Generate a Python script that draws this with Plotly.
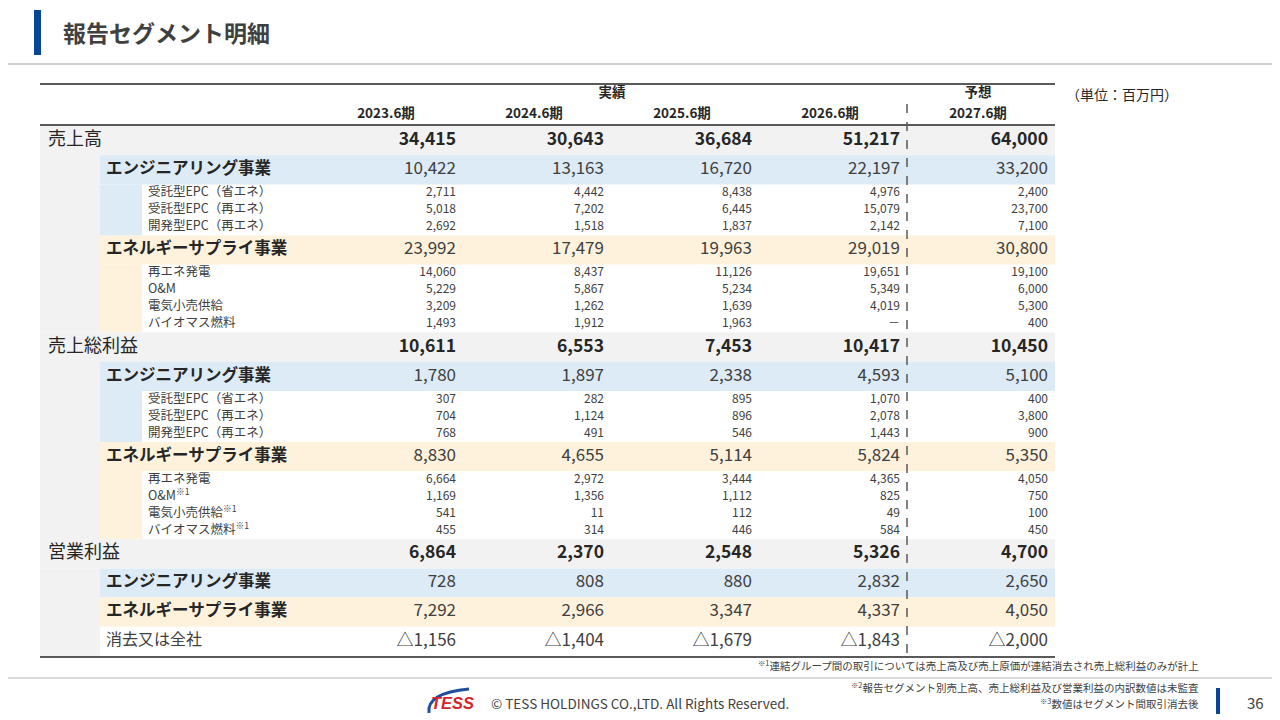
import plotly.graph_objects as go

# ---- data (百万円) ----
years = ["2023.6期", "2024.6期", "2025.6期", "2026.6期", "2027.6期"]

sales_total = [34415, 30643, 36684, 51217, 64000]
sales_eng = [10422, 13163, 16720, 22197, 33200]
eng_items = ["受託型EPC（省エネ）", "受託型EPC（再エネ）", "開発型EPC（再エネ）"]
sales_eng_sub = [
    [2711, 4442, 8438, 4976, 2400],
    [5018, 7202, 6445, 15079, 23700],
    [2692, 1518, 1837, 2142, 7100],
]
sales_energy = [23992, 17479, 19963, 29019, 30800]
sales_energy_items = ["再エネ発電", "O&M", "電気小売供給", "バイオマス燃料"]
sales_energy_sub = [
    [14060, 8437, 11126, 19651, 19100],
    [5229, 5867, 5234, 5349, 6000],
    [3209, 1262, 1639, 4019, 5300],
    [1493, 1912, 1963, None, 400],
]

gross_total = [10611, 6553, 7453, 10417, 10450]
gross_eng = [1780, 1897, 2338, 4593, 5100]
gross_eng_sub = [
    [307, 282, 895, 1070, 400],
    [704, 1124, 896, 2078, 3800],
    [768, 491, 546, 1443, 900],
]
gross_energy = [8830, 4655, 5114, 5824, 5350]
gross_energy_items = ["再エネ発電", "O&M<sup>※1</sup>", "電気小売供給<sup>※1</sup>", "バイオマス燃料<sup>※1</sup>"]
gross_energy_sub = [
    [6664, 2972, 3444, 4365, 4050],
    [1169, 1356, 1112, 825, 750],
    [541, 11, 112, 49, 100],
    [455, 314, 446, 584, 450],
]

op_total = [6864, 2370, 2548, 5326, 4700]
op_eng = [728, 808, 880, 2832, 2650]
op_energy = [7292, 2966, 3347, 4337, 4050]
op_elim = [-1156, -1404, -1679, -1843, -2000]

sections = [
    ("売上高", sales_total, [
        ("eng", "エンジニアリング事業", sales_eng, eng_items, sales_eng_sub),
        ("energy", "エネルギーサプライ事業", sales_energy, sales_energy_items, sales_energy_sub),
    ]),
    ("売上総利益", gross_total, [
        ("eng", "エンジニアリング事業", gross_eng, eng_items, gross_eng_sub),
        ("energy", "エネルギーサプライ事業", gross_energy, gross_energy_items, gross_energy_sub),
    ]),
    ("営業利益", op_total, [
        ("eng", "エンジニアリング事業", op_eng, [], []),
        ("energy", "エネルギーサプライ事業", op_energy, [], []),
        ("elim", "消去又は全社", op_elim, [], []),
    ]),
]

# ---- layout constants ----
JP = "Noto Sans CJK JP"
NUM = "Noto Sans CJK JP"
DARK = "#262626"
MID = "#404040"
col_right = [456, 604, 752, 900, 1048]
TL, TR = 40, 1055
ROW_H = 29.2
SUB_H = 17
bg = {"eng": "#ddebf7", "energy": "#fff2dc", "elim": "white"}
OFF = 8  # page body margin


def fmt(v):
    if v is None:
        return "－"
    if v < 0:
        return "△{:,}".format(-v)
    return "{:,}".format(v)


shapes = []
texts = {}


def add_text(style, x, y, t):
    d = texts.setdefault(style, {"x": [], "y": [], "text": []})
    d["x"].append(x)
    d["y"].append(y)
    d["text"].append(t)


def rect(x0, y0, x1, y1, color):
    shapes.append(dict(type="rect", xref="x", yref="y", x0=x0, x1=x1, y0=y0, y1=y1,
                       fillcolor=color, line=dict(width=0), layer="below"))


y = 126
for label, vals, segs in sections:
    sec_top = y
    rect(TL, y, TR, y + ROW_H, "#f2f2f2")
    add_text("big_label", 48, y + ROW_H / 2, label)
    for i, v in enumerate(vals):
        add_text("big_num", col_right[i], y + ROW_H / 2, "<b>" + fmt(v) + "</b>")
    y += ROW_H
    for kind, seg_label, seg_vals, items, subs in segs:
        rect(100, y, TR, y + ROW_H, bg[kind])
        add_text("elim_label" if kind == "elim" else "seg_label", 106, y + ROW_H / 2,
                 seg_label if kind == "elim" else "<b>" + seg_label + "</b>")
        for i, v in enumerate(seg_vals):
            add_text("seg_num", col_right[i], y + ROW_H / 2, fmt(v))
        y += ROW_H
        if subs:
            band_top = y
            for item, row in zip(items, subs):
                add_text("sub_label", 148, y + SUB_H / 2, item)
                for i, v in enumerate(row):
                    add_text("sub_num", col_right[i], y + SUB_H / 2, fmt(v))
                y += SUB_H
            rect(100, band_top, 142, y, bg[kind])
    rect(TL, sec_top + ROW_H, 100, y, "#f2f2f2")

table_bottom = y + 1

styles = {
    "big_label": dict(pos="middle right", size=18, color=DARK, family=JP),
    "big_num": dict(pos="middle left", size=17.5, color=DARK, family=NUM),
    "seg_label": dict(pos="middle right", size=16.5, color=DARK, family=JP),
    "elim_label": dict(pos="middle right", size=16, color=MID, family=JP),
    "seg_num": dict(pos="middle left", size=17, color=MID, family=NUM),
    "sub_label": dict(pos="middle right", size=12.5, color=MID, family=JP),
    "sub_num": dict(pos="middle left", size=12, color=MID, family=NUM),
}

fig = go.Figure()
for style, d in texts.items():
    s = styles[style]
    fig.add_trace(go.Scatter(
        x=d["x"], y=d["y"], text=d["text"], mode="text", textposition=s["pos"],
        textfont=dict(size=s["size"], color=s["color"], family=s["family"]),
        hoverinfo="skip", showlegend=False, cliponaxis=False))

# column headers
fig.add_trace(go.Scatter(
    x=[c - 70 for c in col_right], y=[115] * len(years),
    text=["<b>" + t + "</b>" for t in years], mode="text", textposition="middle center",
    textfont=dict(size=13.5, color=DARK, family=NUM), hoverinfo="skip", showlegend=False))
fig.add_trace(go.Scatter(
    x=[612, 978], y=[94, 94], text=["<b>実績</b>", "<b>予想</b>"], mode="text",
    textposition="middle center", textfont=dict(size=13.5, color=DARK, family=JP),
    hoverinfo="skip", showlegend=False))

# rules
def line(x0, y0, x1, y1, color, w, dash="solid"):
    shapes.append(dict(type="line", xref="x", yref="y", x0=x0, y0=y0, x1=x1, y1=y1,
                       line=dict(color=color, width=w, dash=dash)))


line(OFF, 64, 1280, 64, "#cfcfcf", 2)
line(TL, 84, TR, 84, "#5a5a5a", 2)
line(TL, 125, TR, 125, "#5a5a5a", 2)
line(TL, table_bottom, TR, table_bottom, "#5a5a5a", 2)
line(907, 104, 907, table_bottom, "#5a5a5a", 1.5, "dash")
line(OFF, 678, 1280, 678, "#d9d9d9", 2)
rect(34, 10, 41, 55, "#0a4595")
rect(1216, 688, 1220, 714, "#0a4595")
shapes.append(dict(type="path", xref="x", yref="y", path="M 429 713 Q 426 693 469 689",
                   line=dict(color="#1f4e9c", width=3)))

ann = [
    dict(x=61, y=32, text="<b>報告セグメント明細</b>", xanchor="left",
         font=dict(size=23, color=MID, family=JP)),
    dict(x=1064, y=94, text="（単位：百万円）", xanchor="left",
         font=dict(size=14, color=DARK, family=JP)),
    dict(x=1201, y=665, text="<sup>※1</sup>連結グループ間の取引については売上高及び売上原価が連結消去され売上総利益のみが計上",
         xanchor="right", font=dict(size=10.5, color=MID, family=JP)),
    dict(x=1201, y=687, text="<sup>※2</sup>報告セグメント別売上高、売上総利益及び営業利益の内訳数値は未監査",
         xanchor="right", font=dict(size=10.5, color=MID, family=JP)),
    dict(x=1201, y=703, text="<sup>※3</sup>数値はセグメント間取引消去後",
         xanchor="right", font=dict(size=10.5, color=MID, family=JP)),
    dict(x=429, y=703, text="<b><i>TESS</i></b>", xanchor="left",
         font=dict(size=16.5, color="#d6262c", family="Liberation Sans")),
    dict(x=489, y=703, text="© TESS HOLDINGS CO.,LTD. All Rights Reserved.", xanchor="left",
         font=dict(size=13.5, color=MID, family=JP)),
    dict(x=1255, y=702, text="36", xanchor="center",
         font=dict(size=15, color=MID, family=JP)),
]
for a in ann:
    a.update(xref="x", yref="y", showarrow=False, yanchor="middle")

fig.update_layout(
    width=1280 - OFF, height=720 - OFF, margin=dict(l=0, r=0, t=0, b=0),
    paper_bgcolor="white", plot_bgcolor="white",
    xaxis=dict(range=[OFF, 1280], visible=False, fixedrange=True),
    yaxis=dict(range=[720, OFF], visible=False, fixedrange=True),
    shapes=shapes, annotations=ann,
)
fig.write_html("out.html")
